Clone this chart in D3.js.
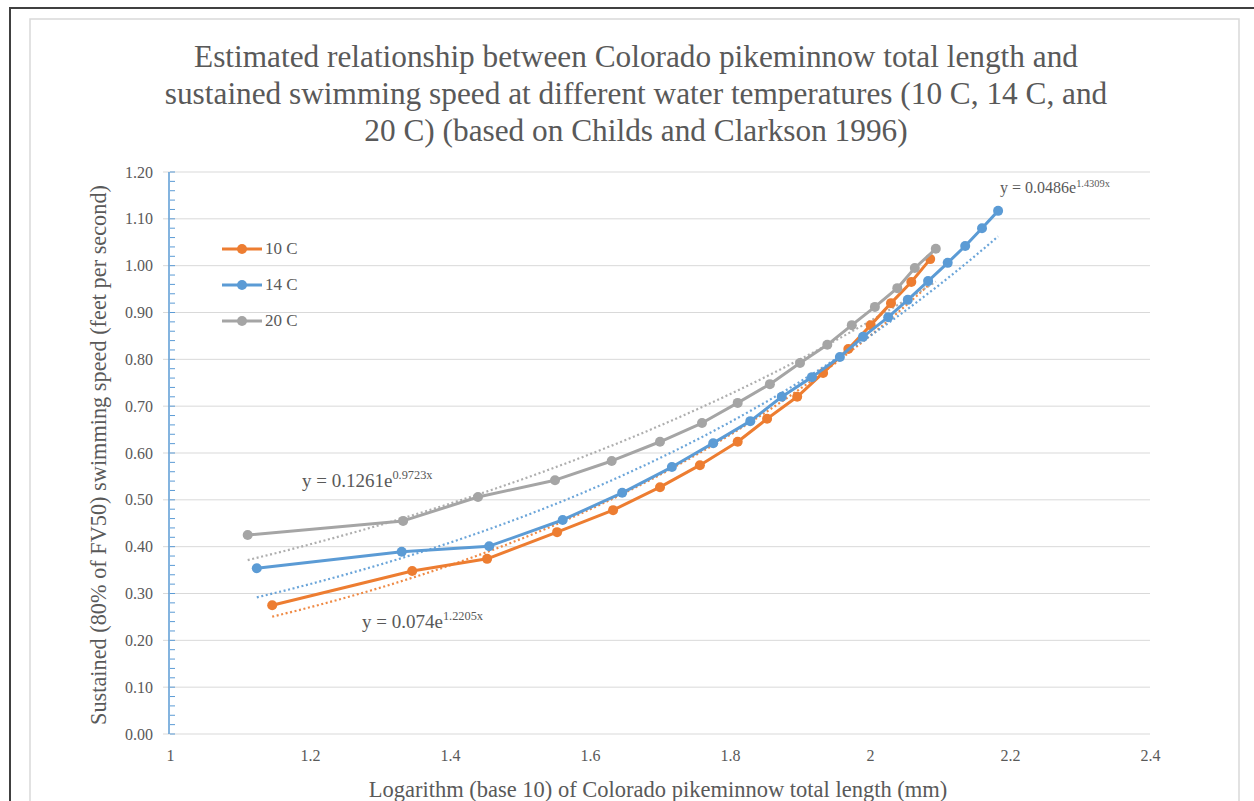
<!DOCTYPE html>
<html><head><meta charset="utf-8">
<script src="https://cdn.jsdelivr.net/npm/d3@7"></script>
<style>
html,body{margin:0;padding:0;background:#fff;}
svg{display:block;}
svg text{font-family:"Liberation Serif","Times New Roman",serif;}
</style></head>
<body><svg id="c" width="1254" height="801"></svg>
<script>
// ---- data ----
const seriesNames = ["10 C", "14 C", "20 C"];
const colors = ["#ED7D31", "#5B9BD5", "#A5A5A5"];

const x10 = [1.146,1.346,1.453,1.553,1.633,1.700,1.757,1.811,1.853,1.896,1.933,1.969,2.001,2.030,2.059,2.086];
const y10 = [0.275,0.348,0.374,0.431,0.478,0.527,0.574,0.624,0.673,0.720,0.771,0.822,0.873,0.920,0.965,1.014];

const x14 = [1.124,1.331,1.456,1.561,1.646,1.717,1.776,1.829,1.874,1.917,1.957,1.990,2.026,2.054,2.083,2.111,2.136,2.160,2.183];
const y14 = [0.354,0.389,0.401,0.457,0.515,0.570,0.621,0.668,0.720,0.762,0.805,0.848,0.890,0.927,0.967,1.006,1.042,1.080,1.117];

const x20 = [1.111,1.333,1.440,1.550,1.631,1.700,1.760,1.811,1.857,1.900,1.939,1.974,2.007,2.039,2.064,2.094];
const y20 = [0.425,0.455,0.506,0.542,0.583,0.624,0.664,0.707,0.747,0.792,0.831,0.873,0.912,0.952,0.995,1.036];

// exponential trendline coefficients y = a*e^(b*x), as printed on the chart
const trendA = [0.0486, 0.074, 0.1261];
const trendB = [1.4309, 1.2205, 0.9723];
const trendLabels = ["0.0486", "0.074", "0.1261"];
const trendExps = ["1.4309x", "1.2205x", "0.9723x"];

const xTicks = [1, 1.2, 1.4, 1.6, 1.8, 2, 2.2, 2.4];
const xTickLabels = ["1", "1.2", "1.4", "1.6", "1.8", "2", "2.2", "2.4"];
const yTicks = [0, 0.1, 0.2, 0.3, 0.4, 0.5, 0.6, 0.7, 0.8, 0.9, 1.0, 1.1, 1.2];

const titleLines = [
  "Estimated relationship between Colorado pikeminnow total length and",
  "sustained swimming speed at different water temperatures (10 C, 14 C, and",
  "20 C) (based on Childs and Clarkson 1996)"
];
const xTitle = "Logarithm (base 10) of Colorado pikeminnow total length (mm)";
const yTitle = "Sustained (80% of FV50) swimming speed (feet per second)";

// ---- drawing ----
const svg = d3.select("#c");
const textCol = "#595959";
const serif = "Liberation Serif";

// frames
svg.append("line").attr("x1",10).attr("y1",8).attr("x2",1254).attr("y2",8).attr("stroke","#404040").attr("stroke-width",2);
svg.append("line").attr("x1",10).attr("y1",7).attr("x2",10).attr("y2",801).attr("stroke","#404040").attr("stroke-width",2);
svg.append("path").attr("d","M30,801V19H1239V801").attr("fill","none").attr("stroke","#D9D9D9").attr("stroke-width",1.5);

const x = d3.scaleLinear().domain([1, 2.4]).range([170, 1150]);
const y = d3.scaleLinear().domain([0, 1.2]).range([734, 172]);

// title
titleLines.forEach((t,i)=>{
  svg.append("text").attr("x",636).attr("y",67 + i*37)
    .attr("text-anchor","middle").attr("fill", textCol)
    .attr("font-family", serif).attr("font-size", 31.3)
    .text(t);
});

// gridlines
svg.append("g").selectAll("line").data(yTicks).join("line")
  .attr("x1", 163).attr("x2", x(2.4))
  .attr("y1", d=>y(d)).attr("y2", d=>y(d))
  .attr("stroke", "#D9D9D9").attr("stroke-width", 1);

// y axis (blue with minor ticks)
const yAxis = d3.axisLeft(y).tickValues(yTicks).tickFormat(d3.format(".2f")).tickSize(0).tickPadding(17);
const gy = svg.append("g").attr("transform", `translate(${x(1)},0)`).call(yAxis);
gy.select(".domain").remove();
gy.attr("font-family", serif);
gy.selectAll("text").attr("fill", textCol).attr("font-size", 16).attr("font-family", serif);
const minor = d3.range(0, 1.2001, 0.02);
svg.append("g").selectAll("line").data(minor).join("line")
  .attr("x1", x(1)).attr("x2", x(1)+5)
  .attr("y1", d=>y(d)).attr("y2", d=>y(d))
  .attr("stroke", "#5B9BD5").attr("stroke-width", 1);
svg.append("line").attr("x1", x(1)-1).attr("x2", x(1)-1).attr("y1", y(1.2)).attr("y2", y(0))
  .attr("stroke", "#5B9BD5").attr("stroke-width", 1.5);

// x axis labels
const xAxis = d3.axisBottom(x).tickValues(xTicks).tickFormat((d,i)=>xTickLabels[i]).tickSize(0).tickPadding(16);
const gx = svg.append("g").attr("transform", `translate(0,${y(0)})`).call(xAxis);
gx.select(".domain").remove();
gx.attr("font-family", serif);
gx.selectAll("text").attr("fill", textCol).attr("font-size", 16).attr("font-family", serif);

// axis titles
svg.append("text").attr("x", 658).attr("y", 797).attr("text-anchor","middle")
  .attr("fill", textCol).attr("font-family", serif).attr("font-size", 22.5).text(xTitle);
svg.append("text").attr("transform", "translate(106,455) rotate(-90)").attr("text-anchor","middle")
  .attr("fill", textCol).attr("font-family", serif).attr("font-size", 22.3).text(yTitle);

// trendlines
const xs = [x10, x14, x20], ys = [y10, y14, y20];
const trendG = svg.append("g");
[0,1,2].forEach(i=>{
  const ext = d3.extent(xs[i]);
  const pts = d3.range(0, 61).map(k => {
    const xv = ext[0] + (ext[1]-ext[0]) * k / 60;
    return [xv, trendA[i] * Math.exp(trendB[i] * xv)];
  });
  trendG.append("path").datum(pts)
    .attr("d", d3.line().x(d=>x(d[0])).y(d=>y(d[1])))
    .attr("fill","none").attr("stroke", colors[i]).attr("stroke-width", 2.2)
    .attr("stroke-dasharray","2,2.6").attr("opacity",0.9);
});

// series lines + markers
const seriesG = svg.append("g");
[0,1,2].forEach(i=>{
  const pts = xs[i].map((xv,k)=>[xv, ys[i][k]]);
  seriesG.append("path").datum(pts)
    .attr("d", d3.line().x(d=>x(d[0])).y(d=>y(d[1])))
    .attr("fill","none").attr("stroke", colors[i]).attr("stroke-width", 3).attr("stroke-linejoin","round");
  seriesG.append("g").selectAll("circle").data(pts).join("circle")
    .attr("cx", d=>x(d[0])).attr("cy", d=>y(d[1])).attr("r", 5).attr("fill", colors[i]);
});

// equation labels
const eqPos = [[1000,193],[362,628],[302,487]];
const eqSize = [16, 19, 19];
[0,1,2].forEach(i=>{
  const t = svg.append("text").attr("x", eqPos[i][0]).attr("y", eqPos[i][1])
    .attr("fill", textCol).attr("font-family", serif).attr("font-size", eqSize[i]);
  t.append("tspan").text("y = " + trendLabels[i] + "e");
  t.append("tspan").attr("font-size", eqSize[i]*0.65).attr("dy", -eqSize[i]*0.4).text(trendExps[i]);
});

// legend
const leg = svg.append("g");
seriesNames.forEach((n,i)=>{
  const ly = 249 + i*36;
  leg.append("line").attr("x1",222).attr("x2",262).attr("y1",ly).attr("y2",ly).attr("stroke",colors[i]).attr("stroke-width",3);
  leg.append("circle").attr("cx",242).attr("cy",ly).attr("r",5).attr("fill",colors[i]);
  leg.append("text").attr("x",265).attr("y",ly+5).attr("fill",textCol).attr("font-family", serif).attr("font-size",17).text(n);
});
</script>
</body></html>
